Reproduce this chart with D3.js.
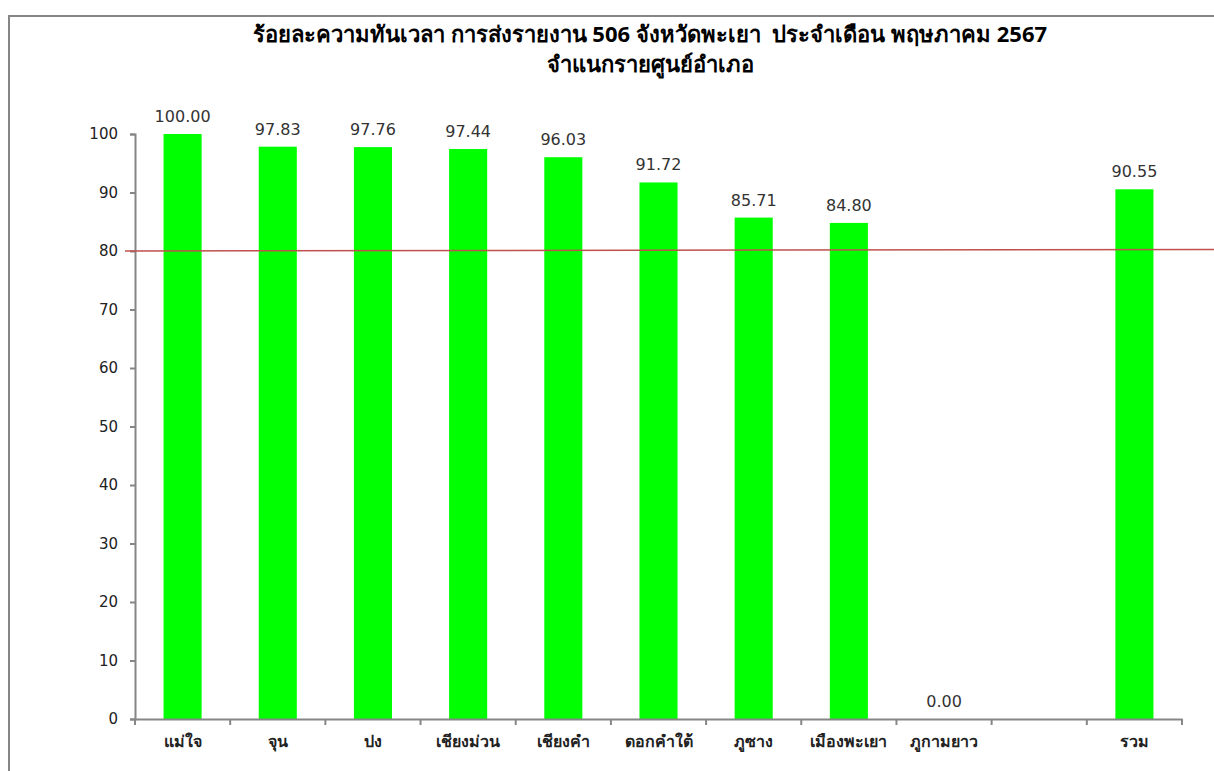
<!DOCTYPE html>
<html>
<head>
<meta charset="utf-8">
<script src="https://cdn.jsdelivr.net/npm/d3@7"></script>
<style>
  body { margin: 0; background: #fff; }
</style>
</head>
<body>
<div id="chart"></div>
<script>
// data
const categories = ['แม่ใจ', 'จุน', 'ปง', 'เชียงม่วน', 'เชียงคำ', 'ดอกคำใต้', 'ภูซาง', 'เมืองพะเยา', 'ภูกามยาว', '', 'รวม'];
const values = [100.00, 97.83, 97.76, 97.44, 96.03, 91.72, 85.71, 84.80, 0.00, null, 90.55];
const y_ticks = [0, 10, 20, 30, 40, 50, 60, 70, 80, 90, 100];
const target = 80;
const title_lines = ['ร้อยละความทันเวลา การส่งรายงาน 506 จังหวัดพะเยา  ประจำเดือน พฤษภาคม 2567', 'จำแนกรายศูนย์อำเภอ'];

const width = 1214;
const height = 771;
const margins = {top: 134, bottom: 52, left: 135, right: 32};

const svg = d3.select('#chart')
    .append('svg')
    .attr('width', width)
    .attr('height', height);

// outer frame (cut off at right and bottom)
svg.append('path')
    .attr('d', 'M9,' + height + 'V16H' + width)
    .attr('fill', 'none')
    .attr('stroke', '#868686')
    .attr('stroke-width', 2);

const x_scale = d3.scaleBand()
    .domain(categories)
    .range([margins.left, width - margins.right])
    .paddingInner(0.6)
    .paddingOuter(0.3);

const y_scale = d3.scaleLinear()
    .domain([0, 100])
    .range([height - margins.bottom, margins.top]);

// title
svg.append('g').selectAll('text')
    .data(title_lines)
    .enter()
    .append('text')
    .attr('x', 650)
    .attr('y', (d, i) => 42 + i * 30)
    .attr('text-anchor', 'middle')
    .style('white-space', 'pre')
    .attr('font-family', 'Tahoma, "Noto Sans", sans-serif')
    .attr('font-weight', 'bold')
    .attr('font-size', '22px')
    .attr('fill', '#000')
    .text(d => d);

const bar_data = categories.map((c, i) => ({name: c, value: values[i]})).filter(d => d.value !== null);

// bars
svg.append('g').selectAll('rect')
    .data(bar_data)
    .enter()
    .append('rect')
    .attr('x', d => x_scale(d.name))
    .attr('y', d => y_scale(d.value))
    .attr('width', x_scale.bandwidth())
    .attr('height', d => y_scale(0) - y_scale(d.value))
    .attr('fill', '#00ff00');

// value labels
svg.append('g').selectAll('text')
    .data(bar_data)
    .enter()
    .append('text')
    .attr('x', d => x_scale(d.name) + x_scale.bandwidth() / 2)
    .attr('y', d => y_scale(d.value) - 12)
    .attr('text-anchor', 'middle')
    .attr('font-family', '"DejaVu Sans", Verdana, sans-serif')
    .attr('font-size', '16px')
    .attr('fill', '#333')
    .text(d => d3.format('.2f')(d.value));

// y axis
const y_axis = d3.axisLeft(y_scale)
    .tickValues(y_ticks)
    .tickSize(5)
    .tickPadding(12)
    .tickFormat(d3.format('d'));

const y_g = svg.append('g')
    .attr('transform', 'translate(' + margins.left + ',0)')
    .call(y_axis);

// x axis with ticks between categories
const x_axis = d3.axisBottom(x_scale)
    .tickSize(0)
    .tickPadding(17);

const x_g = svg.append('g')
    .attr('transform', 'translate(0,' + y_scale(0) + ')')
    .call(x_axis);

x_g.selectAll('.tick')
    .append('line')
    .attr('x1', -x_scale.step() / 2)
    .attr('x2', -x_scale.step() / 2)
    .attr('y2', 6)
    .attr('stroke', '#868686')
    .attr('stroke-width', 2);
x_g.append('line')
    .attr('x1', width - margins.right)
    .attr('x2', width - margins.right)
    .attr('y2', 6)
    .attr('stroke', '#868686')
    .attr('stroke-width', 2);

[y_g, x_g].forEach(g => {
    g.select('.domain')
        .attr('stroke', '#868686')
        .attr('stroke-width', 2);
    g.selectAll('.tick line')
        .attr('stroke', '#868686')
        .attr('stroke-width', 2);
});
y_g.selectAll('.tick text')
    .attr('font-family', '"DejaVu Sans", Verdana, sans-serif')
    .attr('font-size', '15px')
    .attr('fill', '#222');
x_g.selectAll('.tick text')
    .attr('font-family', 'Tahoma, "Noto Sans", sans-serif')
    .attr('font-weight', 'bold')
    .attr('font-size', '16px')
    .attr('fill', '#222');

// target line at 80
svg.append('line')
    .attr('x1', margins.left - 10)
    .attr('x2', width)
    .attr('y1', y_scale(target))
    .attr('y2', y_scale(target) - 1.5)
    .attr('stroke', '#c0504d')
    .attr('stroke-width', 1.5);
</script>
</body>
</html>
